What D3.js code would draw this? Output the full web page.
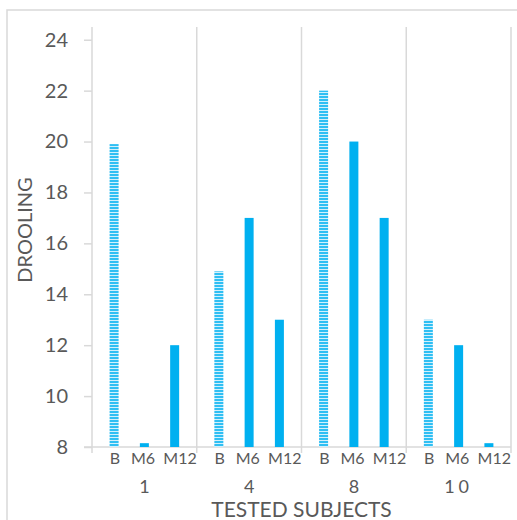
<!DOCTYPE html>
<html>
<head>
<meta charset="utf-8">
<script src="https://cdn.jsdelivr.net/npm/d3@7"></script>
<style>
  body { margin: 0; background: #fff; }
  text { font-family: Lato, "Open Sans", sans-serif; fill: #595959; }
</style>
</head>
<body>
<div id="chart"></div>
<script>
// Data
var subjects = ["1", "4", "8", "10"];
var timepoints = ["B", "M6", "M12"];
var baseline = [19.9, 14.9, 22, 13];
var month6 = [8.15, 17, 20, 12];
var month12 = [12, 13, 17, 8.15];
var yTicks = [8, 10, 12, 14, 16, 18, 20, 22, 24];

var width = 517, height = 520;
var margin = { top: 27, right: 6, bottom: 73, left: 92 };

var svg = d3.select("#chart").append("svg")
    .attr("width", width)
    .attr("height", height);

// Striped fill for the baseline bars
var pattern = svg.append("defs").append("pattern")
    .attr("id", "stripes")
    .attr("patternUnits", "userSpaceOnUse")
    .attr("width", 10)
    .attr("height", 3);
pattern.append("rect").attr("width", 10).attr("height", 3).attr("fill", "#d2f0fc");
pattern.append("rect").attr("width", 10).attr("height", 2).attr("fill", "#2fbff3");

// Outer chart frame
svg.append("rect")
    .attr("x", 7).attr("y", 10)
    .attr("width", 540).attr("height", 540)
    .attr("fill", "none")
    .attr("stroke", "#d9d9d9")
    .attr("stroke-width", 1.5);

var x0 = d3.scaleBand()
    .domain(subjects)
    .range([margin.left, width - margin.right]);

// bar centres inside a subject group
var x1 = d3.scalePoint()
    .domain(timepoints)
    .range([0, x0.bandwidth()])
    .padding(0.73);

// label centres inside a subject group (Excel spreads them a bit wider)
var xLabel = d3.scaleOrdinal()
    .domain(timepoints)
    .range([23, 51, 88]);

var y = d3.scaleLinear()
    .domain([8, 24.5])
    .range([height - margin.bottom, margin.top]);

var barWidth = 9;
var axisY = y(8);

// Group dividers (vertical lines between subjects)
var dividers = subjects.map(function(s) { return x0(s); }).concat([x0.range()[1]]);
svg.selectAll(".divider")
    .data(dividers)
    .enter().append("line")
    .attr("class", "divider")
    .attr("x1", function(d) { return d; })
    .attr("x2", function(d) { return d; })
    .attr("y1", margin.top)
    .attr("y2", axisY + 6)
    .attr("stroke", "#d9d9d9")
    .attr("stroke-width", 1.5);

// Y axis
var yAxis = d3.axisLeft(y)
    .tickValues(yTicks)
    .tickSize(8)
    .tickPadding(16);

var gy = svg.append("g")
    .attr("transform", "translate(" + margin.left + ",0)")
    .call(yAxis);
gy.select(".domain").remove();
gy.selectAll(".tick line").attr("stroke", "#d9d9d9").attr("stroke-width", 1.5);
gy.selectAll(".tick text")
    .style("font-size", "20px")
    .style("font-family", "Lato, sans-serif")
    .attr("fill", "#595959");

// X axis line
svg.append("line")
    .attr("x1", margin.left - 8)
    .attr("x2", x0.range()[1])
    .attr("y1", axisY)
    .attr("y2", axisY)
    .attr("stroke", "#d9d9d9")
    .attr("stroke-width", 1.5);

// Bars
var rows = [];
subjects.forEach(function(s, i) {
    rows.push({ subject: s, time: "B", value: baseline[i] });
    rows.push({ subject: s, time: "M6", value: month6[i] });
    rows.push({ subject: s, time: "M12", value: month12[i] });
});

svg.selectAll(".bar")
    .data(rows)
    .enter().append("rect")
    .attr("class", "bar")
    .attr("x", function(d) { return x0(d.subject) + x1(d.time) - barWidth / 2; })
    .attr("width", barWidth)
    .attr("y", function(d) { return y(d.value); })
    .attr("height", function(d) { return axisY - y(d.value); })
    .attr("fill", function(d) { return d.time === "B" ? "url(#stripes)" : "#00b0f0"; });

// Inner category labels
svg.selectAll(".inner-label")
    .data(rows)
    .enter().append("text")
    .attr("class", "inner-label")
    .attr("x", function(d) { return x0(d.subject) + xLabel(d.time); })
    .attr("y", 464)
    .attr("text-anchor", "middle")
    .style("font-size", "16px")
    .text(function(d) { return d.time; });

// Subject labels
svg.selectAll(".subject-label")
    .data(subjects)
    .enter().append("text")
    .attr("class", "subject-label")
    .attr("x", function(d) { return x0(d) + x0.bandwidth() / 2; })
    .attr("y", 493)
    .attr("text-anchor", "middle")
    .style("font-size", "18px")
    .style("letter-spacing", function(d) { return d.length > 1 ? "4px" : "0px"; })
    .text(function(d) { return d; });

// Axis titles
svg.append("text")
    .attr("x", (margin.left + x0.range()[1]) / 2)
    .attr("y", 517)
    .attr("text-anchor", "middle")
    .style("font-size", "21px")
    .text("TESTED SUBJECTS");

svg.append("text")
    .attr("transform", "translate(32,230) rotate(-90)")
    .attr("text-anchor", "middle")
    .style("font-size", "20px")
    .text("DROOLING");
</script>
</body>
</html>
